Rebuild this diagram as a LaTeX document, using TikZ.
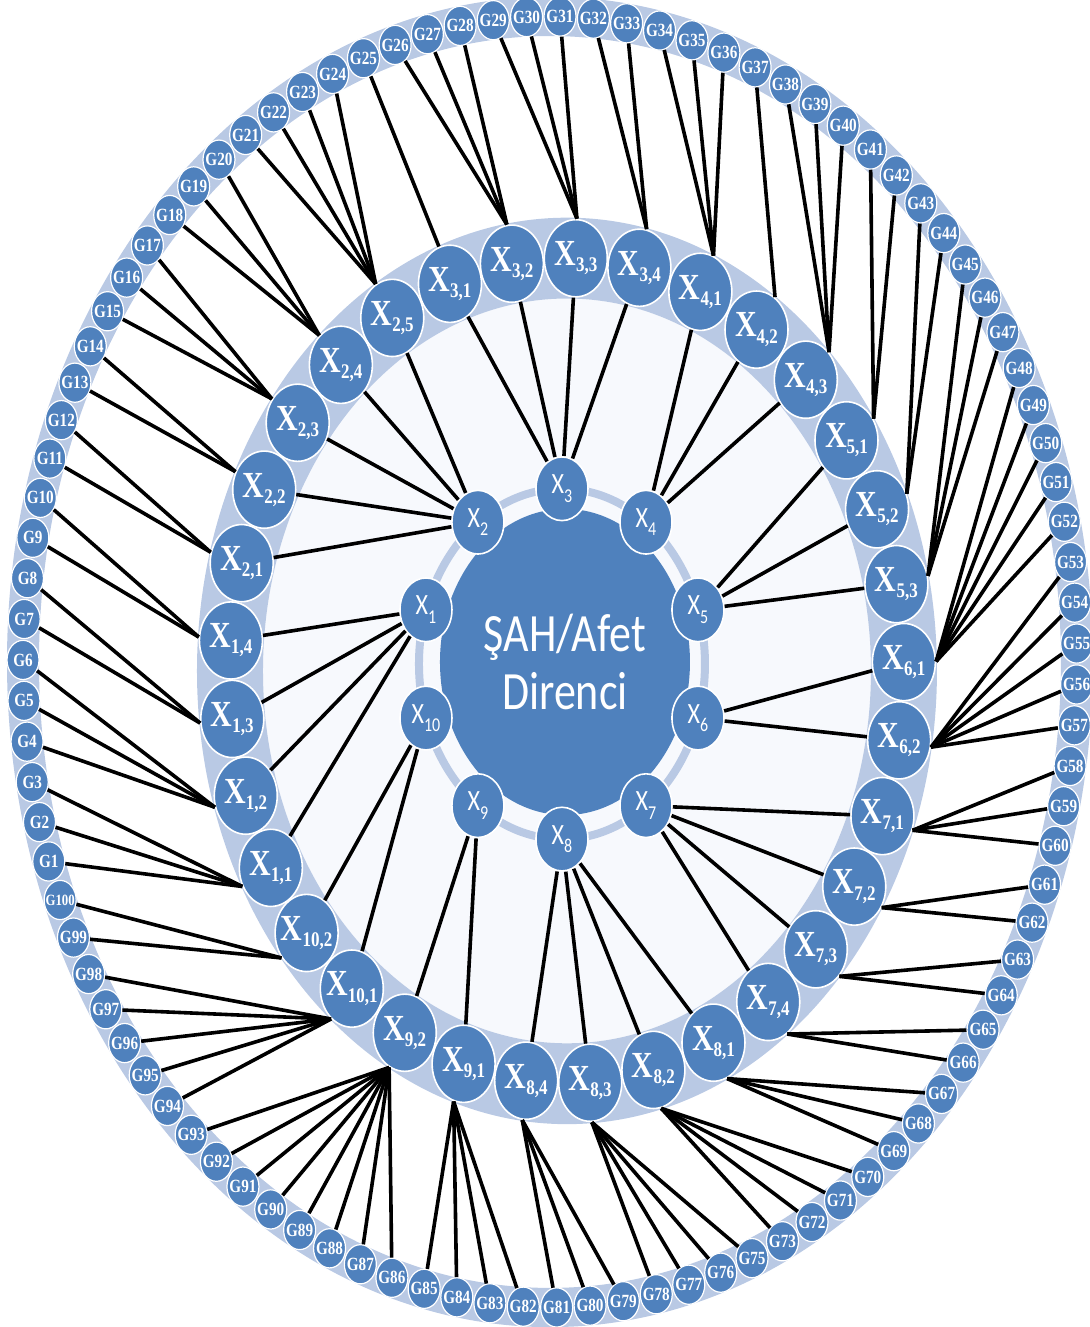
\documentclass[tikz,border=0pt]{standalone}
\usepackage{fontspec}
\setmainfont{Liberation Serif}
\newfontfamily\calibrifont{Carlito}
\usepackage{tikz}
\definecolor{NodeBlue}{RGB}{79,129,189}
\definecolor{RingBlue}{RGB}{185,201,228}
\definecolor{PaleBlue}{RGB}{247,249,253}
\newcommand{\sublab}[2]{X\raisebox{-2.5pt}{\fontsize{8.5}{9}\selectfont #1,#2}}
\newcommand{\critlab}[1]{X\raisebox{-3.5pt}{\fontsize{8}{9}\selectfont #1}}

\begin{document}
\begin{tikzpicture}[x=0.5pt, y=0.5pt, yscale=1.225, transform shape,
  ind/.style={circle, fill=NodeBlue, draw=white, line width=0.6pt, inner sep=0pt,
              minimum size=16pt, text=white, font=\bfseries\fontsize{7.6}{7.6}\selectfont},
  sub/.style={circle, fill=NodeBlue, draw=white, line width=0.8pt, inner sep=0pt,
              minimum size=31.5pt, text=white, font=\bfseries\fontsize{15}{15}\selectfont},
  crit/.style={circle, fill=NodeBlue, draw=white, line width=0.8pt, inner sep=0pt,
               minimum size=26pt, text=white, font=\calibrifont\fontsize{12}{12}\selectfont},
  core/.style={circle, fill=NodeBlue, inner sep=0pt, minimum size=125pt, text=white,
               align=center, font=\calibrifont\fontsize{22}{24}\selectfont},
  link/.style={line width=1.8pt, black}]

  \useasboundingbox (-550,-542.9) rectangle (540,540.4);

  % --- rings ---
  \fill[RingBlue, even odd rule] (0,0) circle (543) (0,0) circle (511);
  \begin{scope}[shift={(17,-7.3)}]
    \fill[PaleBlue] (0,0) circle (304);
    \fill[RingBlue, even odd rule] (0,0) circle (370) (0,0) circle (304);
  \end{scope}
  \draw[RingBlue, line width=4pt] (12,-1.6) circle (143);

  % --- centre and criteria ---
  \node[core] (core) at (15,0) {ŞAH/Afet\\Direnci};
  \begin{scope}[shift={(12,-1.6)}]
    \foreach \i in {1,...,10}
      \node[crit] (crit\i) at ({198-36*\i}:143) {\critlab{\i}};
  \end{scope}

  % --- sub-criteria ---
  \begin{scope}[shift={(17,-7.3)}]
    \foreach \i/\j [count=\n from 0] in {1/1,1/2,1/3,1/4,2/1,2/2,2/3,2/4,2/5,3/1,3/2,3/3,3/4,
        4/1,4/2,4/3,5/1,5/2,5/3,6/1,6/2,7/1,7/2,7/3,7/4,8/1,8/2,8/3,8/4,9/1,9/2,10/1,10/2}
      \node[sub] (sub\i-\j) at ({208.5-(360/33)*\n}:337) {\sublab{\i}{\j}};
  \end{scope}

  % --- indicators ---
  \foreach \k [count=\p from 0] in {1,...,73,75,76,...,100}
    \node[ind] (ind\k) at ({198-(360/99)*\p}:527) {\ifnum\k=100 \fontsize{6.4}{6.4}\selectfont\fi G\k};

  % --- links ---
  \foreach \i/\j/\a/\b [count=\n from 0] in {1/1/1/3,1/2/4/6,1/3/7/8,1/4/9/10,2/1/11/12,
      2/2/13/14,2/3/15/17,2/4/18/20,2/5/21/24,3/1/25/25,3/2/26/28,3/3/29/31,3/4/32/33,
      4/1/34/36,4/2/37/37,4/3/38/40,5/1/41/42,5/2/43/44,5/3/45/47,6/1/48/52,6/2/53/57,
      7/1/58/60,7/2/61/62,7/3/63/64,7/4/65/66,8/1/67/69,8/2/70/73,8/3/75/78,8/4/79/81,
      9/1/82/85,9/2/86/93,10/1/94/98,10/2/99/100}{
    \pgfmathsetmacro\ang{mod(568.5-(360/33)*\n,360)}
    \draw[link] (crit\i) -- (sub\i-\j);
    \foreach \k in {\a,...,\b}
      \draw[link] (ind\k) -- (sub\i-\j.\ang);
  }
\end{tikzpicture}
\end{document}
